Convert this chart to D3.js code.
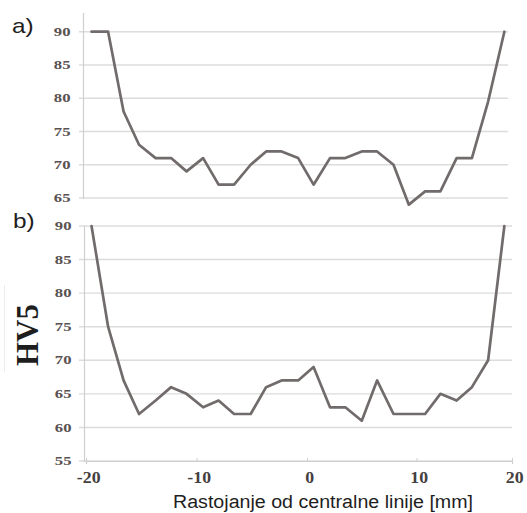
<!DOCTYPE html>
<html>
<head>
<meta charset="utf-8">
<script src="https://cdn.jsdelivr.net/npm/d3@7/dist/d3.min.js"></script>
<style>
  html, body { margin: 0; padding: 0; background: #ffffff; }
  svg { display: block; }
</style>
</head>
<body>
<svg id="chart" width="527" height="513"></svg>
<script>
// ---- data ----
const distance = [-19.5, -18.0, -16.6, -15.2, -13.7, -12.3, -10.9, -9.4, -8.0, -6.6, -5.1, -3.7, -2.3, -0.8,
                  0.6, 2.1, 3.5, 5.0, 6.4, 7.9, 9.3, 10.9, 12.5, 14.2, 15.8, 17.5, 19.2];
const hvA = [90, 90, 78, 73, 71, 71, 69, 71, 67, 67, 70, 72, 72, 71, 67, 71, 71, 72, 72, 70, 64, 66, 66, 71, 71, 79.5, 90];
const hvB = [90, 75, 67, 62, 64, 66, 65, 63, 64, 62, 62, 66, 67, 67, 69, 63, 63, 61, 67, 62, 62, 62, 65, 64, 66, 70, 90];
const xTicks = [-20, -10, 0, 10, 20];
const yTicksA = [65, 70, 75, 80, 85, 90];
const yTicksB = [55, 60, 65, 70, 75, 80, 85, 90];
const panelLabels = ["a)", "b)"];
const yTitle = "HV5";
const xTitle = "Rastojanje od centralne linije [mm]";

// ---- layout ----
const svg = d3.select("#chart");
const gridColor = "#dcdcdc";
const axisColor = "#cfcfcf";
const lineColor = "#716b6b";
const yLabelColor = "#5a5252";
const xLabelColor = "#454040";

const x = d3.scaleLinear().domain(xTicks).range([86, 196.5, 307, 416.5, 512]);
const yA = d3.scaleLinear().domain([65, 90]).range([198, 31.7]);
const yB = d3.scaleLinear().domain([55, 90]).range([461, 226]);

svg.append("rect").attr("width", 527).attr("height", 513).attr("fill", "#ffffff");

// faint crop artifact line at far left
svg.append("line").attr("x1", 4.5).attr("x2", 4.5).attr("y1", 285).attr("y2", 372)
  .attr("stroke", "#ececec").attr("stroke-width", 1);

function panel(y, ticks, values, gridRight, axisTop, axisX) {
  const g = svg.append("g");
  g.selectAll("line.grid").data(ticks).join("line")
    .attr("class", "grid")
    .attr("x1", 79).attr("x2", gridRight)
    .attr("y1", d => y(d)).attr("y2", d => y(d))
    .attr("stroke", gridColor).attr("stroke-width", 1.4);
  g.append("line")
    .attr("x1", axisX).attr("x2", axisX)
    .attr("y1", axisTop).attr("y2", y(ticks[0]) + 1)
    .attr("stroke", axisColor).attr("stroke-width", 1.2);
  const ax = g.append("g").attr("transform", `translate(${axisX},0)`)
    .call(d3.axisLeft(y).tickValues(ticks).tickSize(0).tickPadding(9).tickFormat(d => String(d)));
  ax.select(".domain").remove();
  ax.selectAll("text")
    .attr("font-family", "'Liberation Serif', 'Times New Roman', serif")
    .attr("font-weight", "bold")
    .attr("font-size", 11.5)
    .attr("fill", yLabelColor)
    .attr("transform", "scale(1.45,1)");
  const pts = distance.map((d, i) => [d, values[i]]);
  g.append("path").datum(pts)
    .attr("d", d3.line().x(d => x(d[0])).y(d => y(d[1])))
    .attr("fill", "none")
    .attr("stroke", lineColor)
    .attr("stroke-width", 2.7)
    .attr("stroke-linejoin", "round")
    .attr("stroke-linecap", "round");
  return g;
}

panel(yA, yTicksA, hvA, 508, 13, 83.5);
panel(yB, yTicksB, hvB, 512, 226, 84.5);

// x axis (panel b)
const xa = svg.append("g").attr("transform", `translate(0,${yB(55)})`)
  .call(d3.axisBottom(x).tickValues(xTicks).tickSize(3).tickPadding(7).tickFormat(d => String(d)));
xa.select(".domain").attr("stroke", axisColor).attr("stroke-width", 1.2);
xa.selectAll(".tick line").attr("stroke", axisColor).attr("y1", -3).attr("y2", 0);
xa.selectAll("text")
  .attr("font-family", "'Liberation Serif', 'Times New Roman', serif")
  .attr("font-weight", "bold")
  .attr("font-size", 16.5)
  .attr("fill", xLabelColor)
  .attr("dx", 2)
  .attr("transform", "scale(1.08,1)");

// axis titles
svg.append("text")
  .attr("transform", "translate(38,335) rotate(-90)")
  .attr("text-anchor", "middle")
  .attr("font-family", "'Liberation Serif', 'Times New Roman', serif")
  .attr("font-weight", "bold")
  .attr("font-size", 31)
  .attr("fill", "#1e1e1e")
  .text(yTitle);

svg.append("text")
  .attr("x", 173).attr("y", 507.5)
  .attr("font-family", "'Liberation Sans', Arial, sans-serif")
  .attr("font-size", 18)
  .attr("textLength", 300)
  .attr("lengthAdjust", "spacingAndGlyphs")
  .attr("fill", "#1e1e1e")
  .text(xTitle);

// panel labels
const labelPos = [[12, 33], [13, 228]];
panelLabels.forEach((t, i) => {
  svg.append("text")
    .attr("transform", `translate(${labelPos[i][0]},${labelPos[i][1]}) scale(1.22,1)`)
    .attr("font-family", "'Liberation Sans', Arial, sans-serif")
    .attr("font-size", 20)
    .attr("fill", "#1e1e1e")
    .text(t);
});
</script>
</body>
</html>
